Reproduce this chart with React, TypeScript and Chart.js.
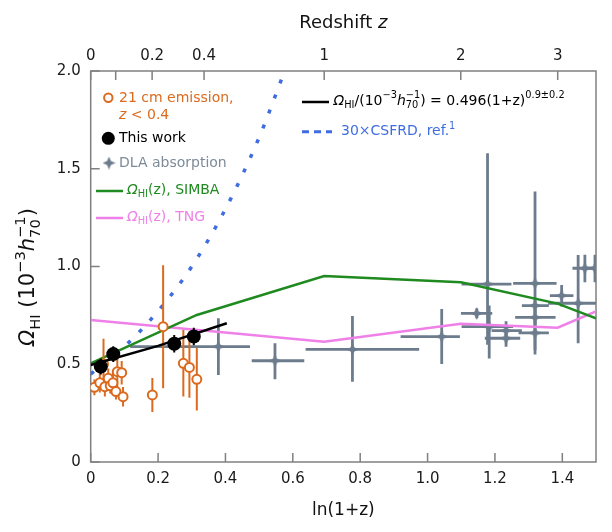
import React, { useEffect, useRef } from 'react';
import { Chart, registerables } from 'chart.js';

Chart.register(...registerables);

const W = 612;
const H = 532;
const FONT = '"DejaVu Sans", sans-serif';

// ---- 21 cm emission (z < 0.4)
const emX = [0.011, 0.027, 0.038, 0.042, 0.052, 0.058, 0.066, 0.075, 0.079, 0.092, 0.096, 0.183, 0.215, 0.275, 0.293, 0.315];
const emY = [0.382, 0.405, 0.5, 0.385, 0.428, 0.39, 0.405, 0.36, 0.462, 0.457, 0.334, 0.343, 0.692, 0.505, 0.484, 0.423];
const emErr = [0.04, 0.05, 0.13, 0.05, 0.05, 0.04, 0.06, 0.04, 0.095, 0.06, 0.05, 0.087, 0.315, 0.17, 0.155, 0.16];

// ---- This work
const twX = [0.03, 0.067, 0.248, 0.306];
const twY = [0.488, 0.552, 0.605, 0.642];
const twErr = [0.04, 0.04, 0.045, 0.045];

// ---- DLA absorption
const dlaX = [0.379, 0.547, 0.777, 1.042, 1.146, 1.178, 1.183, 1.233, 1.233, 1.319, 1.319, 1.319, 1.319, 1.398, 1.447, 1.467, 1.497];
const dlaY = [0.59, 0.518, 0.576, 0.641, 0.76, 0.91, 0.692, 0.672, 0.633, 0.914, 0.8, 0.74, 0.66, 0.851, 0.812, 0.991, 0.991];
const dlaXLo = [0.117, 0.478, 0.638, 0.92, 1.099, 1.101, 1.101, 1.19, 1.17, 1.254, 1.28, 1.26, 1.27, 1.363, 1.358, 1.43, 1.46];
const dlaXHi = [0.473, 0.634, 0.975, 1.096, 1.192, 1.249, 1.254, 1.28, 1.275, 1.383, 1.36, 1.38, 1.36, 1.433, 1.5, 1.5, 1.54];
const dlaYLo = [0.445, 0.423, 0.411, 0.501, 0.735, 0.6, 0.53, 0.63, 0.59, 0.573, 0.76, 0.7, 0.55, 0.796, 0.607, 0.92, 0.92];
const dlaYHi = [0.735, 0.607, 0.747, 0.783, 0.785, 1.579, 0.8, 0.72, 0.676, 1.383, 0.84, 0.78, 0.72, 0.906, 1.059, 1.06, 1.06];

// ---- Fit line
const fitX = [0, 0.2, 0.404];
const fitY = [0.496, 0.594, 0.71];

// ---- 30 x CSFRD
const sfX = [0, 0.1, 0.2, 0.3, 0.4, 0.5, 0.58];
const sfY = [0.45, 0.59, 0.772, 1.0, 1.294, 1.66, 2.02];

// ---- SIMBA
const simbaX = [0, 0.315, 0.693, 1.099, 1.386, 1.5];
const simbaY = [0.505, 0.752, 0.951, 0.919, 0.81, 0.735];

// ---- TNG
const tngX = [0, 0.693, 1.099, 1.386, 1.5];
const tngY = [0.726, 0.615, 0.707, 0.687, 0.77];

// ---- Ticks
const xTicks = [0, 0.2, 0.4, 0.6, 0.8, 1.0, 1.2, 1.4];
const xTickLabels = ['0', '0.2', '0.4', '0.6', '0.8', '1.0', '1.2', '1.4'];
const yTicks = [0, 0.5, 1.0, 1.5, 2.0];
const yTickLabels = ['0', '0.5', '1.0', '1.5', '2.0'];
const zTicks = [0, 0.077, 0.2, 0.4, 1, 2, 3];
const zTickLabels = ['0', '', '0.2', '0.4', '1', '2', '3'];

const ORANGE = '#dc6a1e';
const GREY = '#6c7c8d';
const GREEN = '#1f8a1f';
const PINK = '#ee80e8';
const BLUE = '#3f6de0';
const AXIS = '#808080';

const pts = (xs: number[], ys: number[]) => xs.map((x, i) => ({ x, y: ys[i] }));

function makeStar(size: number, color: string) {
  const c = document.createElement('canvas');
  c.width = size;
  c.height = size;
  const g = c.getContext('2d')!;
  const m = size / 2;
  const k = size * 0.15;
  g.fillStyle = color;
  g.beginPath();
  g.moveTo(m, 0);
  g.lineTo(m + k, m - k);
  g.lineTo(size, m);
  g.lineTo(m + k, m + k);
  g.lineTo(m, size);
  g.lineTo(m - k, m + k);
  g.lineTo(0, m);
  g.lineTo(m - k, m - k);
  g.closePath();
  g.fill();
  return c;
}

type Part = { t: string; it?: boolean; sub?: boolean; sup?: boolean; stack?: boolean };

function rich(ctx: CanvasRenderingContext2D, parts: Part[], x: number, y: number, size: number, color: string, draw = true) {
  let cx = x;
  let stackW = 0;
  ctx.fillStyle = color;
  ctx.textBaseline = 'middle';
  ctx.textAlign = 'left';
  for (const p of parts) {
    const fs = p.sub || p.sup ? size * 0.7 : size;
    ctx.font = `${p.it ? 'italic ' : ''}${fs}px ${FONT}`;
    const dy = p.sub ? size * 0.32 : p.sup ? -size * 0.38 : 0;
    const w = ctx.measureText(p.t).width;
    if (draw) ctx.fillText(p.t, cx, y + dy);
    if (p.stack) {
      stackW = w;
      continue;
    }
    cx += stackW ? Math.max(w, stackW) : w;
    stackW = 0;
  }
  return cx - x;
}

const errInfo: Record<string, any> = {
  em: { color: ORANGE, width: 2, yLo: emY.map((v, i) => v - emErr[i]), yHi: emY.map((v, i) => v + emErr[i]) },
  tw: { color: '#000', width: 2, yLo: twY.map((v, i) => v - twErr[i]), yHi: twY.map((v, i) => v + twErr[i]) },
  dla: { color: GREY, width: 2.8, yLo: dlaYLo, yHi: dlaYHi, xLo: dlaXLo, xHi: dlaXHi },
};

const errPlugin = {
  id: 'errbars',
  beforeDatasetDraw(chart: any, args: any) {
    const ds = chart.data.datasets[args.index];
    const eb = errInfo[ds.key];
    if (!eb) return;
    const { ctx, chartArea: a } = chart;
    const xs = chart.scales.x;
    const ys = chart.scales.y;
    ctx.save();
    ctx.beginPath();
    ctx.rect(a.left, a.top, a.right - a.left, a.bottom - a.top);
    ctx.clip();
    ctx.strokeStyle = eb.color;
    ctx.lineWidth = eb.width;
    ds.data.forEach((p: any, i: number) => {
      const px = xs.getPixelForValue(p.x);
      const py = ys.getPixelForValue(p.y);
      ctx.beginPath();
      ctx.moveTo(px, ys.getPixelForValue(eb.yLo[i]));
      ctx.lineTo(px, ys.getPixelForValue(eb.yHi[i]));
      if (eb.xLo) {
        ctx.moveTo(xs.getPixelForValue(eb.xLo[i]), py);
        ctx.lineTo(xs.getPixelForValue(eb.xHi[i]), py);
      }
      ctx.stroke();
    });
    ctx.restore();
  },
};

const framePlugin = {
  id: 'frame',
  beforeDatasetsDraw(chart: any) {
    const { ctx, chartArea: a } = chart;
    ctx.save();
    ctx.strokeStyle = AXIS;
    ctx.lineWidth = 1.5;
    ctx.strokeRect(a.left, a.top, a.right - a.left, a.bottom - a.top);
    const TL = 9;
    ctx.beginPath();
    chart.scales.x.ticks.forEach((t: any) => {
      const px = chart.scales.x.getPixelForValue(t.value);
      ctx.moveTo(px, a.bottom);
      ctx.lineTo(px, a.bottom - TL);
    });
    chart.scales.x2.ticks.forEach((t: any) => {
      const px = chart.scales.x2.getPixelForValue(t.value);
      ctx.moveTo(px, a.top);
      ctx.lineTo(px, a.top + TL);
    });
    chart.scales.y.ticks.forEach((t: any) => {
      const py = chart.scales.y.getPixelForValue(t.value);
      ctx.moveTo(a.left, py);
      ctx.lineTo(a.left + TL, py);
    });
    ctx.stroke();
    ctx.restore();
  },
};

const textPlugin = {
  id: 'texts',
  afterDraw(chart: any) {
    const { ctx, chartArea: a } = chart;
    ctx.save();
    const cxm = (a.left + a.right) / 2;
    // top title
    const t1: Part[] = [{ t: 'Redshift ' }, { t: 'z', it: true }];
    let w = rich(ctx, t1, 0, 0, 18, '#111', false);
    rich(ctx, t1, cxm - w / 2, 23, 18, '#111');
    // bottom title
    const t2: Part[] = [{ t: 'ln(1+z)' }];
    w = rich(ctx, t2, 0, 0, 17, '#111', false);
    rich(ctx, t2, cxm - w / 2, 511, 17, '#111');
    // y title
    const t3: Part[] = [
      { t: 'Ω', it: true }, { t: 'HI', sub: true }, { t: ' (10' }, { t: '−3', sup: true },
      { t: 'h', it: true }, { t: '−1', sup: true, stack: true }, { t: '70', sub: true }, { t: ')' },
    ];
    w = rich(ctx, t3, 0, 0, 21, '#111', false);
    ctx.save();
    ctx.translate(29, 277);
    ctx.rotate(-Math.PI / 2);
    rich(ctx, t3, -w / 2, 0, 21, '#111');
    ctx.restore();

    // left legend
    const LS = 14;
    ctx.lineWidth = 2;
    ctx.strokeStyle = ORANGE;
    ctx.fillStyle = '#fff';
    ctx.beginPath();
    ctx.arc(108.3, 97.7, 4.2, 0, Math.PI * 2);
    ctx.fill();
    ctx.stroke();
    rich(ctx, [{ t: '21 cm emission,' }], 119, 98, LS, ORANGE);
    rich(ctx, [{ t: 'z', it: true }, { t: ' < 0.4' }], 119, 115.5, LS, ORANGE);
    ctx.fillStyle = '#000';
    ctx.beginPath();
    ctx.arc(108.3, 138.3, 6.5, 0, Math.PI * 2);
    ctx.fill();
    rich(ctx, [{ t: 'This work' }], 119, 138.5, LS, '#000');
    const st = makeStar(13, GREY);
    ctx.drawImage(st, 109 - 6.5, 163 - 6.5);
    rich(ctx, [{ t: 'DLA absorption' }], 119, 163, LS, '#7d8b99');
    ctx.lineWidth = 2.5;
    ctx.strokeStyle = GREEN;
    ctx.beginPath();
    ctx.moveTo(96, 191);
    ctx.lineTo(123, 191);
    ctx.stroke();
    rich(ctx, [{ t: 'Ω', it: true }, { t: 'HI', sub: true }, { t: '(z), SIMBA' }], 127, 190, LS, GREEN);
    ctx.strokeStyle = PINK;
    ctx.beginPath();
    ctx.moveTo(96, 218);
    ctx.lineTo(123, 218);
    ctx.stroke();
    rich(ctx, [{ t: 'Ω', it: true }, { t: 'HI', sub: true }, { t: '(z), TNG' }], 127, 217, LS, PINK);

    // right legend
    ctx.strokeStyle = '#000';
    ctx.lineWidth = 2.5;
    ctx.beginPath();
    ctx.moveTo(302, 102);
    ctx.lineTo(329, 102);
    ctx.stroke();
    rich(ctx, [
      { t: 'Ω', it: true }, { t: 'HI', sub: true }, { t: '/(10' }, { t: '−3', sup: true },
      { t: 'h', it: true }, { t: '−1', sup: true, stack: true }, { t: '70', sub: true },
      { t: ') = 0.496(1+z)' }, { t: '0.9±0.2', sup: true },
    ], 333.5, 101, LS, '#000');
    ctx.strokeStyle = BLUE;
    ctx.lineWidth = 3;
    ctx.setLineDash([7, 5]);
    ctx.beginPath();
    ctx.moveTo(302, 131.7);
    ctx.lineTo(332, 131.7);
    ctx.stroke();
    ctx.setLineDash([]);
    rich(ctx, [{ t: '30×CSFRD, ref.' }, { t: '1', sup: true }], 341, 131.5, LS, BLUE);
    ctx.restore();
  },
};

const tickFont = { family: FONT, size: 15 };

export default function App() {
  const ref = useRef<HTMLCanvasElement>(null);
  useEffect(() => {
    const star = makeStar(13, GREY);
    const chart = new Chart(ref.current!, {
      type: 'scatter',
      data: {
        datasets: [
          {
            key: 'tw', data: pts(twX, twY), pointRadius: 7, pointStyle: 'circle',
            backgroundColor: '#000', borderColor: '#000', borderWidth: 0,
          } as any,
          {
            key: 'fit', data: pts(fitX, fitY), showLine: true, pointRadius: 0,
            borderColor: '#000', borderWidth: 2.5, fill: false,
          } as any,
          {
            key: 'em', data: pts(emX, emY), pointRadius: 4.5, pointStyle: 'circle',
            backgroundColor: '#fff', borderColor: ORANGE, borderWidth: 2,
          } as any,
          {
            key: 'sf', data: pts(sfX, sfY), showLine: true, pointRadius: 0,
            borderColor: BLUE, borderWidth: 3.5, borderDash: [4, 12], cubicInterpolationMode: 'monotone', fill: false,
          } as any,
          {
            key: 'simba', data: pts(simbaX, simbaY), showLine: true, pointRadius: 0,
            borderColor: GREEN, borderWidth: 2.5, fill: false,
          } as any,
          {
            key: 'tng', data: pts(tngX, tngY), showLine: true, pointRadius: 0,
            borderColor: PINK, borderWidth: 2.5, fill: false,
          } as any,
          {
            key: 'dla', data: pts(dlaX, dlaY), pointRadius: 6, pointStyle: star,
            backgroundColor: GREY, borderColor: GREY,
          } as any,
        ],
      },
      options: {
        animation: false,
        responsive: false,
        events: [],
        layout: { padding: { left: 0, right: 16, top: 0, bottom: 0 } },
        plugins: { legend: { display: false }, tooltip: { enabled: false } },
        scales: {
          x: {
            type: 'linear', position: 'bottom', min: 0, max: 1.5,
            afterBuildTicks: (s: any) => { s.ticks = xTicks.map((v) => ({ value: v })); },
            afterFit: (s: any) => { s.height = 70; },
            grid: { display: false, drawTicks: false },
            border: { display: false },
            ticks: { padding: 8, font: tickFont, color: '#1a1a1a', maxRotation: 0, autoSkip: false,
              callback: (_v: any, i: number) => xTickLabels[i] },
          },
          x2: {
            type: 'linear', position: 'top', min: 0, max: 1.5,
            afterBuildTicks: (s: any) => { s.ticks = zTicks.map((z) => ({ value: Math.log(1 + z) })); },
            afterFit: (s: any) => { s.height = 71; },
            grid: { display: false, drawTicks: false },
            border: { display: false },
            ticks: { padding: 6, font: tickFont, color: '#1a1a1a', maxRotation: 0, autoSkip: false,
              callback: (_v: any, i: number) => zTickLabels[i] },
          },
          y: {
            type: 'linear', position: 'left', min: 0, max: 2,
            afterBuildTicks: (s: any) => { s.ticks = yTicks.map((v) => ({ value: v })); },
            afterFit: (s: any) => { s.width = 90.7; },
            grid: { display: false, drawTicks: false },
            border: { display: false },
            ticks: { padding: 10, font: tickFont, color: '#1a1a1a', autoSkip: false,
              callback: (_v: any, i: number) => yTickLabels[i] },
          },
        },
      } as any,
      plugins: [framePlugin, errPlugin, textPlugin],
    });
    return () => chart.destroy();
  }, []);
  return (
    <div style={{ position: 'fixed', left: 0, top: 0, width: W, height: H, background: '#fff' }}>
      <canvas ref={ref} width={W} height={H} style={{ width: W, height: H }} />
    </div>
  );
}
